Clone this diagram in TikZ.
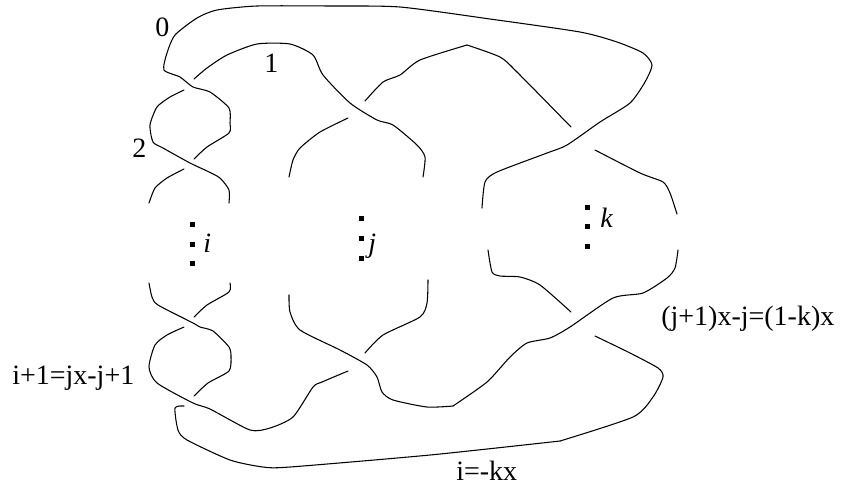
\documentclass[tikz,border=0pt]{standalone}
\usepackage{fontspec}
\setmainfont{Liberation Serif}
\tikzset{
  strand/.style={line width=0.8pt,black,line cap=round,line join=round},
  lab/.style={anchor=base west,inner sep=0pt,font=\fontsize{21}{24}\selectfont},
}
\begin{document}
\begin{tikzpicture}[x=0.75pt,y=-0.75pt]
  \useasboundingbox (0,0) rectangle (841,487);
  % upper crossings
  \draw[strand] plot[smooth,tension=0.4] coordinates {(194,79) (207,68) (227,55) (257,44) (290,44) (313,55) (323,75) (350,103) (377,120) (393,125) (417,145) (425,157) (423,177)};
  \draw[strand] plot[smooth,tension=0.4] coordinates {(194,159) (207,147) (229,133) (230,123) (229,108) (210,92) (193,87) (180,77) (164,70) (167,53) (175,35) (197,18) (217,10) (257,6) (330,6) (400,7) (490,19) (580,32) (617,42) (643,53) (652,65) (645,82) (630,103) (600,122) (567,145) (547,153) (497,172) (485,182) (482,208)};
  \draw[strand] plot[smooth,tension=0.4] coordinates {(184,90) (170,97) (157,107) (150,125) (153,142) (163,148) (190,163) (207,171) (220,178) (229,190) (229,203)};
  \draw[strand] plot[smooth,tension=0.4] coordinates {(184,169) (167,178) (155,188) (149,203)};
  \draw[strand] plot[smooth,tension=0.4] coordinates {(348,118) (320,132) (300,148) (293,160) (289,177)};
  \draw[strand] plot[smooth,tension=0.4] coordinates {(365,101) (383,82) (400,75) (420,60) (467,45)};
  \draw[strand] plot[smooth,tension=0.4] coordinates {(467,45) (500,57) (517,72) (571,127)};
  \draw[strand] plot[smooth,tension=0.4] coordinates {(595,150) (640,173) (663,182) (670,193) (677,214)};
  % lower crossings
  \draw[strand] plot[smooth,tension=0.4] coordinates {(149,283) (152,297) (158,305) (193,323) (200,327) (213,331) (229,347) (231,357) (229,371) (208,383) (194,396)};
  \draw[strand] plot[smooth,tension=0.4] coordinates {(230,283) (229,292) (207,305) (194,317)};
  \draw[strand] plot[smooth,tension=0.4] coordinates {(184,327) (167,335) (155,345) (149,367) (157,383) (193,403) (210,409) (250,430) (270,428) (293,417) (313,387) (322,382) (348,371)};
  \draw[strand] plot[smooth,tension=0.4] coordinates {(289,295) (290,312) (300,330) (340,350) (367,365) (377,377) (382,392) (393,400) (427,407) (453,406)};
  \draw[strand] plot[smooth,tension=0.4] coordinates {(453,406) (487,382) (510,357) (527,343) (550,338) (570,327) (613,298) (643,293) (667,278) (675,268) (678,250)};
  \draw[strand] plot[smooth,tension=0.4] coordinates {(184,406) (175,408) (178,430) (187,440) (230,460) (263,467) (290,467) (430,455) (560,441)};
  \draw[strand] plot[smooth,tension=0.4] coordinates {(560,441) (633,417) (653,397) (663,377) (658,368) (630,353) (595,336)};
  \draw[strand] plot[smooth,tension=0.4] coordinates {(365,353) (383,335) (420,317) (427,303) (428,280)};
  \draw[strand] plot[smooth,tension=0.4] coordinates {(488,250) (492,272) (500,276) (520,277) (540,285) (571,312)};
  % dots
  \foreach \x/\y in {192/224,192/244,192/263,361/218,361/238,361/258,587/207,587/226,587/246}{
    \fill[black] (\x-2.5,\y-2.5) rectangle (\x+2.5,\y+2.5);
  }
  % labels
  \node[lab] (zero) at (155,36) {0};
  \node[lab] (one) at (264,72) {1};
  \node[lab] (two) at (132,157) {2};
  \node[lab] (ii) at (203,252) {\itshape i};
  \node[lab] (jj) at (368,252) {\itshape j};
  \node[lab] (kk) at (600,227) {\itshape k};
  \node[lab] (left) at (12,384) {i+1=jx-j+1};
  \node[lab] (right) at (661,325) {(j+1)x-j=(1-k)x};
  \node[lab] (bottom) at (456,480) {i=-kx};
\end{tikzpicture}
\end{document}
